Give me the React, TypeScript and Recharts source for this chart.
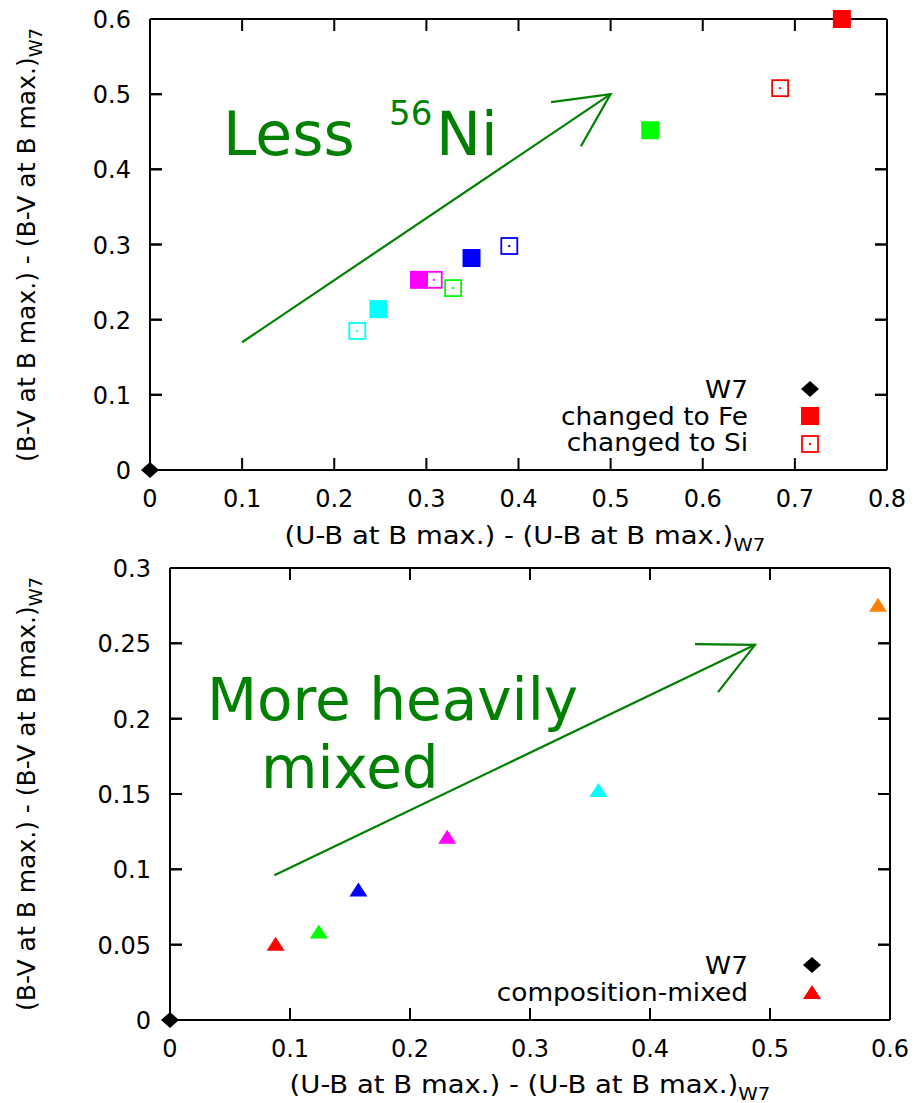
import React from 'react';
import { ScatterChart, Scatter, XAxis, YAxis, ReferenceLine } from 'recharts';

const FONT = '"DejaVu Sans", Verdana, sans-serif';
const GREEN = '#008000';

// upper panel
const w7Point = [{ x: 0, y: 0 }];
const feX = [0.751, 0.543, 0.349, 0.292, 0.248];
const feY = [0.6, 0.452, 0.282, 0.253, 0.214];
const feColors = ['#ff0000', '#00ff00', '#0000ff', '#ff00ff', '#00ffff'];
const siX = [0.684, 0.39, 0.308, 0.329, 0.225];
const siY = [0.508, 0.298, 0.253, 0.242, 0.185];
const siColors = ['#ff0000', '#0000ff', '#ff00ff', '#00ff00', '#00ffff'];
const topXTicks = [0, 0.1, 0.2, 0.3, 0.4, 0.5, 0.6, 0.7, 0.8];
const topYTicks = [0, 0.1, 0.2, 0.3, 0.4, 0.5, 0.6];
const topArrow = [{ x: 0.1, y: 0.17 }, { x: 0.5, y: 0.5 }];

// lower panel
const mixX = [0.088, 0.124, 0.157, 0.231, 0.357, 0.59];
const mixY = [0.05, 0.058, 0.086, 0.121, 0.152, 0.275];
const mixColors = ['#ff0000', '#00ff00', '#0000ff', '#ff00ff', '#00ffff', '#ff8000'];
const botXTicks = [0, 0.1, 0.2, 0.3, 0.4, 0.5, 0.6];
const botYTicks = [0, 0.05, 0.1, 0.15, 0.2, 0.25, 0.3];
const botArrow = [{ x: 0.087, y: 0.096 }, { x: 0.4875, y: 0.249 }];

const zip = (xs: number[], ys: number[], cs: string[]) =>
  xs.map((x, i) => ({ x, y: ys[i], color: cs[i] }));

const feData = zip(feX, feY, feColors);
const siData = zip(siX, siY, siColors);
const mixData = zip(mixX, mixY, mixColors);

const TICK = 12;

const BottomTick = (p: any) => (
  <text x={p.x} y={p.y + 37} textAnchor="middle" fontSize={24} fontFamily={FONT} fill="#000">
    {p.payload.value}
  </text>
);
const LeftTick = (p: any) => (
  <text x={p.x - 19} y={p.y + 9} textAnchor="end" fontSize={24} fontFamily={FONT} fill="#000">
    {p.payload.value}
  </text>
);

// inward y tick marks on left and right frame
const MarkRight = ({ cx, cy }: any) => <rect x={cx} y={cy - 1} width={TICK} height={2} fill="#000" />;
const MarkLeft = ({ cx, cy }: any) => <rect x={cx - TICK} y={cy - 1} width={TICK} height={2} fill="#000" />;

// Inward ticks on all four frame edges. The reference segment gives two points
// projected by the chart scales; the linear map between them places every tick.
const frameTicks = (seg: { x: number; y: number }[], xTicks: number[], yTicks: number[]) => (props: any) => {
  const x1 = Number(props.x1);
  const y1 = Number(props.y1);
  const x2 = Number(props.x2);
  const y2 = Number(props.y2);
  const px = (v: number) => x1 + ((v - seg[0].x) / (seg[1].x - seg[0].x)) * (x2 - x1);
  const py = (v: number) => y1 + ((v - seg[0].y) / (seg[1].y - seg[0].y)) * (y2 - y1);
  const bottom = py(yTicks[0]);
  const top = py(yTicks[yTicks.length - 1]);
  const left = px(xTicks[0]);
  const right = px(xTicks[xTicks.length - 1]);
  let d = '';
  xTicks.forEach((t) => {
    const x = px(t);
    d += `M${x},${bottom}L${x},${bottom - TICK}M${x},${top}L${x},${top + TICK}`;
  });
  yTicks.forEach((t) => {
    const y = py(t);
    d += `M${left},${y}L${left + TICK},${y}M${right},${y}L${right - TICK},${y}`;
  });
  return <path d={d} stroke="#000" strokeWidth={2} fill="none" />;
};

// point shapes
const Diamond = ({ cx, cy }: any) => (
  <polygon points={`${cx},${cy - 8} ${cx + 9},${cy} ${cx},${cy + 8} ${cx - 9},${cy}`} fill="#000" />
);
const FilledSquare = ({ cx, cy, payload, color }: any) => (
  <rect x={cx - 9} y={cy - 9} width={18} height={18} fill={color || payload.color} />
);
const OpenSquare = ({ cx, cy, payload, color }: any) => {
  const c = color || payload.color;
  return (
    <g>
      <rect x={cx - 8} y={cy - 8} width={16} height={16} fill="none" stroke={c} strokeWidth={1.8} />
      <rect x={cx - 1} y={cy - 1} width={2} height={2} fill={c} />
    </g>
  );
};
const Triangle = ({ cx, cy, payload, color }: any) => (
  <polygon
    points={`${cx},${cy - 8} ${cx + 9},${cy + 6} ${cx - 9},${cy + 6}`}
    fill={color || payload.color}
  />
);

const ArrowShape = (props: any) => {
  const { x1, y1, x2, y2 } = props;
  const a = Math.atan2(y2 - y1, x2 - x1);
  const len = 60;
  const spread = 0.46;
  const bx1 = x2 - len * Math.cos(a - spread);
  const by1 = y2 - len * Math.sin(a - spread);
  const bx2 = x2 - len * Math.cos(a + spread);
  const by2 = y2 - len * Math.sin(a + spread);
  return (
    <g stroke={GREEN} strokeWidth={2.2} fill="none">
      <line x1={x1} y1={y1} x2={x2} y2={y2} />
      <polyline points={`${bx1},${by1} ${x2},${y2} ${bx2},${by2}`} />
    </g>
  );
};

const axisLine = { stroke: '#000', strokeWidth: 2 };

function Axes({ xTicks, yTicks }: { xTicks: number[]; yTicks: number[] }) {
  const xd: [number, number] = [xTicks[0], xTicks[xTicks.length - 1]];
  const yd: [number, number] = [yTicks[0], yTicks[yTicks.length - 1]];
  const common = { axisLine, stroke: '#000', tickLine: false, tickSize: 0, tickMargin: 0, interval: 0 as const };
  const ids = { xAxisId: 'b', yAxisId: 'l', isAnimationActive: false };
  return [
    <XAxis key="xb" xAxisId="b" type="number" dataKey="x" domain={xd} ticks={xTicks}
      orientation="bottom" height={30} {...common} tick={<BottomTick />} />,
    <XAxis key="xt" xAxisId="t" type="number" dataKey="x" domain={xd} ticks={xTicks}
      orientation="top" height={5} {...common} tick={false} />,
    <YAxis key="yl" yAxisId="l" type="number" dataKey="y" domain={yd} ticks={yTicks}
      orientation="left" width={60} {...common} tick={<LeftTick />} />,
    <YAxis key="yr" yAxisId="r" type="number" dataKey="y" domain={yd} ticks={yTicks}
      orientation="right" width={5} {...common} tick={false} />,
    <Scatter key="ml" {...ids} data={yTicks.map((t) => ({ x: xd[0], y: t }))} shape={<MarkRight />} />,
    <Scatter key="mr" {...ids} data={yTicks.map((t) => ({ x: xd[1], y: t }))} shape={<MarkLeft />} />,
  ];
}

const textStyle = { fontFamily: FONT, fill: '#000' };

// axis title with a W7 subscript, stretched a little horizontally like the original
const AxisTitle = ({ x, y, text, rotate }: { x: number; y: number; text: string; rotate?: boolean }) => (
  <text
    transform={rotate ? `translate(${x},${y}) rotate(-90)` : `translate(${x},${y}) scale(1.1,1)`}
    textAnchor="middle"
    fontSize={25}
    style={textStyle}
  >
    {text}
    <tspan dy={7} fontSize={18}>W7</tspan>
  </text>
);

const LegendText = ({ y, children }: any) => (
  <text transform={`translate(748,${y}) scale(1.1,1)`} textAnchor="end" fontSize={24} style={textStyle}>
    {children}
  </text>
);

export default function App() {
  return (
    <div style={{ position: 'absolute', left: 0, top: 0, width: 914, height: 1103, background: '#fff' }}>
      <div style={{ position: 'absolute', left: 0, top: 0 }}>
        <ScatterChart width={914} height={560} margin={{ top: 14, right: 22, bottom: 60, left: 90 }}>
          {Axes({ xTicks: topXTicks, yTicks: topYTicks })}
          <ReferenceLine xAxisId="b" yAxisId="l" segment={topArrow} ifOverflow="visible"
            shape={frameTicks(topArrow, topXTicks, topYTicks)} />
          <ReferenceLine xAxisId="b" yAxisId="l" segment={topArrow} shape={ArrowShape} ifOverflow="visible" />
          <Scatter xAxisId="b" yAxisId="l" name="W7" data={w7Point} shape={<Diamond />} isAnimationActive={false} />
          <Scatter xAxisId="b" yAxisId="l" name="changed to Fe" data={feData} shape={<FilledSquare />} isAnimationActive={false} />
          <Scatter xAxisId="b" yAxisId="l" name="changed to Si" data={siData} shape={<OpenSquare />} isAnimationActive={false} />
        </ScatterChart>
      </div>
      <div style={{ position: 'absolute', left: 0, top: 545 }}>
        <ScatterChart width={914} height={558} margin={{ top: 18, right: 19, bottom: 53, left: 110 }}>
          {Axes({ xTicks: botXTicks, yTicks: botYTicks })}
          <ReferenceLine xAxisId="b" yAxisId="l" segment={botArrow} ifOverflow="visible"
            shape={frameTicks(botArrow, botXTicks, botYTicks)} />
          <ReferenceLine xAxisId="b" yAxisId="l" segment={botArrow} shape={ArrowShape} ifOverflow="visible" />
          <Scatter xAxisId="b" yAxisId="l" name="W7" data={w7Point} shape={<Diamond />} isAnimationActive={false} />
          <Scatter xAxisId="b" yAxisId="l" name="composition-mixed" data={mixData} shape={<Triangle />} isAnimationActive={false} />
        </ScatterChart>
      </div>
      <svg width={914} height={1103} style={{ position: 'absolute', left: 0, top: 0, pointerEvents: 'none' }}>
        {/* annotations */}
        <text fontFamily={FONT} fill={GREEN}>
          <tspan x={223} y={155} fontSize={60}>Less</tspan>
          <tspan x={389} y={125} fontSize={34}>56</tspan>
          <tspan x={436} y={155} fontSize={60}>Ni</tspan>
        </text>
        <text fontFamily={FONT} fill={GREEN} fontSize={58}>
          <tspan x={207} y={720}>More heavily</tspan>
          <tspan x={261} y={788}>mixed</tspan>
        </text>

        {/* axis titles */}
        <AxisTitle x={525} y={544} text="(U-B at B max.) - (U-B at B max.)" />
        <AxisTitle x={35} y={245} text="(B-V at B max.) - (B-V at B max.)" rotate />
        <AxisTitle x={530} y={1093} text="(U-B at B max.) - (U-B at B max.)" />
        <AxisTitle x={35} y={794} text="(B-V at B max.) - (B-V at B max.)" rotate />

        {/* legends */}
        <LegendText y={398}>W7</LegendText>
        <LegendText y={425}>changed to Fe</LegendText>
        <LegendText y={451}>changed to Si</LegendText>
        <LegendText y={974}>W7</LegendText>
        <LegendText y={1001}>composition-mixed</LegendText>
        <Diamond cx={810} cy={389} />
        <FilledSquare cx={810} cy={416} color="#ff0000" />
        <OpenSquare cx={810} cy={444} color="#ff0000" />
        <Diamond cx={812} cy={965} />
        <Triangle cx={812} cy={993} color="#ff0000" />
      </svg>
    </div>
  );
}
